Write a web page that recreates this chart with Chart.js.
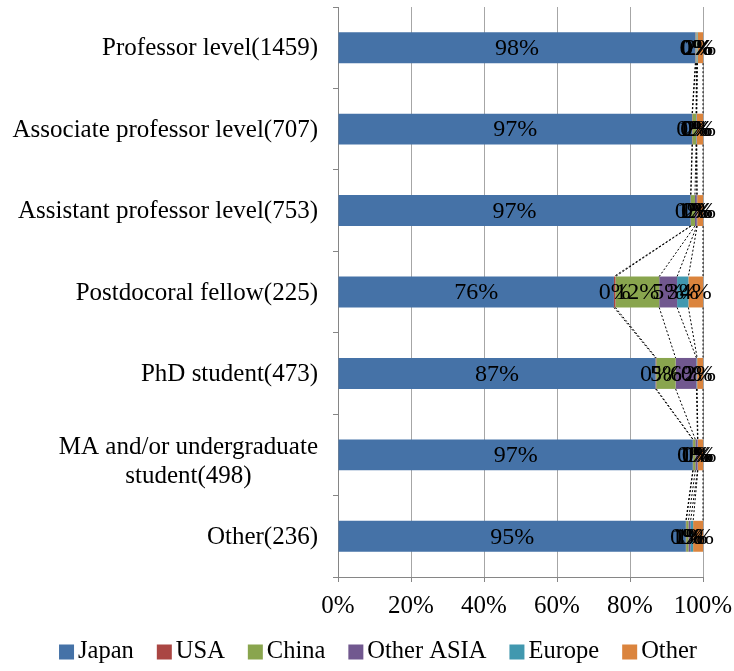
<!DOCTYPE html>
<html>
<head>
<meta charset="utf-8">
<script src="https://cdn.jsdelivr.net/npm/chart.js@4"></script>
<style>
  html, body { margin: 0; padding: 0; background: #fff; }
  #wrap { width: 734px; height: 671px; }
</style>
</head>
<body>
<div id="wrap"><canvas id="chart" width="734" height="671"></canvas></div>
<script>
const categories = [
    'Professor level(1459)',
    'Associate professor level(707)',
    'Assistant professor level(753)',
    'Postdocoral fellow(225)',
    'PhD student(473)',
    ['MA and/or undergraduate', 'student(498)'],
    'Other(236)'
];
const seriesNames = ['Japan', 'USA', 'China', 'Other ASIA', 'Europe', 'Other'];
const seriesColors = ['#4572A7', '#AA4643', '#89A54E', '#71588F', '#4198AF', '#DB843D'];

// percentages per category, same order as categories
const japan     = [97.9, 97.0, 96.6, 75.6, 87.0, 97.2, 95.3];
const usa       = [0.1, 0.1, 0.1, 0.4, 0.2, 0.1, 0.1];
const china     = [0.2, 1.0, 1.1, 12.0, 5.3, 0.6, 0.6];
const otherAsia = [0.1, 0.1, 0.5, 4.9, 5.7, 0.6, 0.6];
const europe    = [0.2, 0.1, 0.1, 3.1, 0.2, 0.1, 0.7];
const other     = [1.5, 1.7, 1.6, 4.0, 1.6, 1.4, 2.7];

const xTicks = [0, 20, 40, 60, 80, 100];

const allSeries = [japan, usa, china, otherAsia, europe, other];
const serif = "'Liberation Serif', 'Times New Roman', serif";

// dashed series lines between bars + centred value labels
const seriesLinesAndLabels = {
    id: 'seriesLinesAndLabels',
    afterDatasetsDraw(chart) {
        const ctx = chart.ctx;
        ctx.save();
        ctx.strokeStyle = '#000';
        ctx.lineWidth = 1;
        ctx.setLineDash([2, 2]);
        chart.data.datasets.forEach((ds, i) => {
            const els = chart.getDatasetMeta(i).data;
            for (let j = 0; j < els.length - 1; j++) {
                const a = els[j].getProps(['x', 'y', 'height'], true);
                const b = els[j + 1].getProps(['x', 'y', 'height'], true);
                ctx.beginPath();
                ctx.moveTo(a.x, a.y + a.height / 2);
                ctx.lineTo(b.x, b.y - b.height / 2);
                ctx.stroke();
            }
        });
        ctx.setLineDash([]);
        ctx.fillStyle = '#000';
        ctx.font = '24px ' + serif;
        ctx.textAlign = 'center';
        ctx.textBaseline = 'middle';
        chart.data.datasets.forEach((ds, i) => {
            chart.getDatasetMeta(i).data.forEach((el, j) => {
                const p = el.getProps(['x', 'y', 'base'], true);
                ctx.fillText(Math.round(ds.data[j]) + '%', (p.x + p.base) / 2, p.y + 1);
            });
        });
        ctx.restore();
    }
};

// category labels: right aligned block, lines centred inside it (Excel style)
const categoryLabels = {
    id: 'categoryLabels',
    afterDraw(chart) {
        const ctx = chart.ctx;
        const yScale = chart.scales.y;
        const right = yScale.right - 20;
        ctx.save();
        ctx.font = '25px ' + serif;
        ctx.fillStyle = '#000';
        ctx.textAlign = 'center';
        ctx.textBaseline = 'middle';
        chart.data.labels.forEach((label, i) => {
            const lines = Array.isArray(label) ? label : [label];
            const w = Math.max(...lines.map(l => ctx.measureText(l).width));
            const cx = right - w / 2;
            const lh = 29;
            const cy = yScale.getPixelForValue(i) + 1 + (lines.length > 1 ? 6 : 0);
            lines.forEach((l, k) => {
                ctx.fillText(l, cx, cy + (k - (lines.length - 1) / 2) * lh);
            });
        });
        ctx.restore();
    }
};

// Excel-like legend: small square, tight gap to the text
const bottomLegend = {
    id: 'bottomLegend',
    afterDraw(chart) {
        const ctx = chart.ctx;
        ctx.save();
        ctx.font = '24.5px ' + serif;
        ctx.textBaseline = 'middle';
        ctx.textAlign = 'left';
        const box = 15, gap = 4, itemGap = 23, cy = 652;
        const widths = chart.data.datasets.map(ds => box + gap + ctx.measureText(ds.label).width);
        const total = widths.reduce((s, w) => s + w, 0) + itemGap * (widths.length - 1);
        let x = 378 - total / 2;
        chart.data.datasets.forEach((ds, i) => {
            ctx.fillStyle = ds.backgroundColor;
            ctx.fillRect(x, cy - box / 2, box, box);
            ctx.fillStyle = '#000';
            ctx.fillText(ds.label, x + box + gap, cy);
            x += widths[i] + itemGap;
        });
        ctx.restore();
    }
};

new Chart(document.getElementById('chart').getContext('2d'), {
    type: 'bar',
    data: {
        labels: categories,
        datasets: seriesNames.map((name, i) => ({
            label: name,
            data: allSeries[i],
            backgroundColor: seriesColors[i],
            borderWidth: 0,
            barPercentage: 0.38,
            categoryPercentage: 1
        }))
    },
    options: {
        indexAxis: 'y',
        responsive: false,
        animation: false,
        layout: { padding: { left: 0, right: 31, top: 7, bottom: 49 } },
        scales: {
            x: {
                stacked: true,
                min: 0,
                max: 100,
                afterBuildTicks(scale) {
                    scale.ticks = xTicks.map(v => ({ value: v }));
                },
                afterFit(scale) {
                    scale.height = 45;
                    scale.paddingLeft = 0;
                    scale.paddingRight = 0;
                },
                ticks: {
                    color: '#000',
                    font: { family: serif, size: 25 },
                    padding: 9,
                    callback: v => v + '%'
                },
                grid: { color: '#a6a6a6', tickLength: 5, tickColor: '#868686' },
                border: { color: '#868686' }
            },
            y: {
                stacked: true,
                afterFit(scale) {
                    scale.width = 338;
                    scale.paddingTop = 0;
                    scale.paddingBottom = 0;
                },
                ticks: { display: false },
                grid: { offset: true, drawOnChartArea: false, tickLength: 5, color: '#868686' },
                border: { color: '#868686' }
            }
        },
        plugins: {
            legend: { display: false },
            tooltip: { enabled: false }
        }
    },
    plugins: [seriesLinesAndLabels, categoryLabels, bottomLegend]
});
</script>
</body>
</html>
